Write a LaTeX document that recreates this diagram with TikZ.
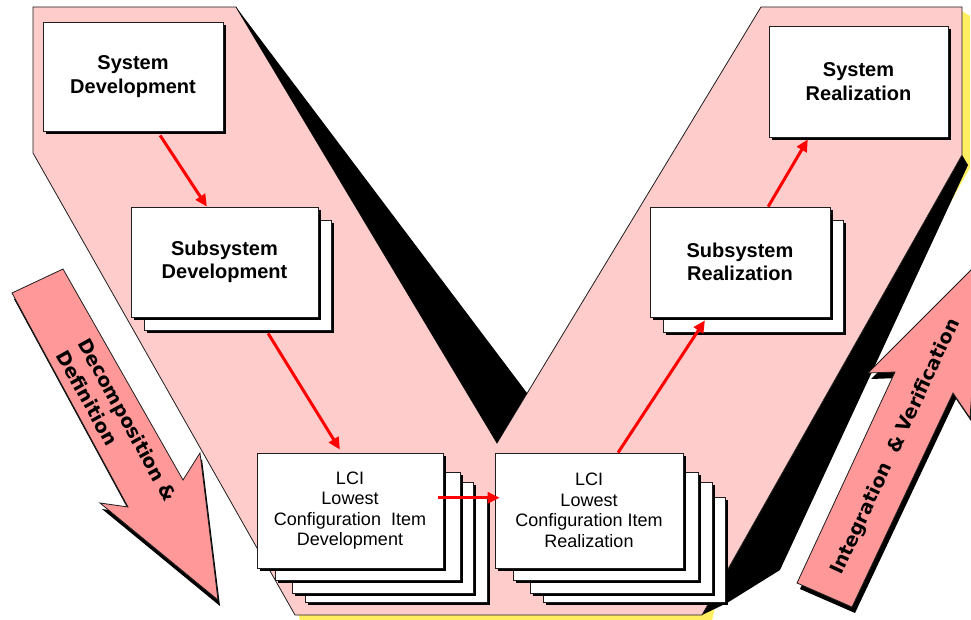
\documentclass[tikz,border=0pt]{standalone}
\usepackage{fontspec}
\setmainfont{Liberation Sans}
\newfontfamily\arrowfont{DejaVu Sans}
\usetikzlibrary{arrows.meta,calc,shadows}

\definecolor{vpink}{RGB}{255,204,204}
\definecolor{apink}{RGB}{255,153,153}
\definecolor{vyellow}{RGB}{255,238,96}
\definecolor{edgegray}{RGB}{30,30,30}

\tikzset{
  outline/.style={draw=edgegray, line width=0.8pt, line join=miter},
  card/.style={outline, fill=white, inner sep=0pt, align=center,
    drop shadow={shadow xshift=3pt, shadow yshift=-3pt, fill=black, opacity=1}},
  boldlabel/.style={font=\bfseries\fontsize{20}{23.5}\selectfont},
  lcilabel/.style={font=\fontsize{18}{20.5}\selectfont},
  arrowtext/.style={font=\arrowfont\bfseries\fontsize{19}{24.5}\selectfont, inner sep=0pt},
  flow/.style={draw=red, line width=3pt, -{Triangle[length=12pt,width=11pt]}},
}

\begin{document}
\begin{tikzpicture}[x=1pt,y=-1pt]
\path[use as bounding box] (0,0) rectangle (971,620);
\clip (0,0) rectangle (971,620);

% extruded V: yellow and black side faces, pink front face
\fill[vyellow] (955,7) -- (970,16) -- (970,168) -- (937,226) -- (930,226) -- (962,155) -- cycle;
\fill[vyellow] (298,613) -- (706,613) -- (716,604) -- (712,620) -- (300,620) -- cycle;
\fill[black] (962,155) -- (968,165) -- (780,570) -- (727,603) -- (702,615) -- cycle;
\draw[outline, fill=vpink] (33,7) -- (236,7) -- (497,443) -- (761,7) -- (962,7)
  -- (962,155) -- (702,615) -- (295,615) -- (33,153) -- cycle;
\fill[black] (236,7) -- (527,393) -- (497,443) -- cycle;

% Decomposition & Definition arrow
\fill[black, shift={(2,6)}] (12,293) -- (63,269) -- (183,480) -- (200,453) -- (218,600)
  -- (100,503) -- (128,507) -- cycle;
\draw[outline, fill=apink] (12,293) -- (63,269) -- (183,480) -- (200,453) -- (218,600)
  -- (100,503) -- (128,507) -- cycle;
\node[arrowtext, rotate=-61, align=left] (decomp) at (117,426) {Decomposition \&\\Definition};

% Integration & Verification arrow
\fill[black, shift={(3,6)}] (797,583) -- (895,372) -- (868,373) -- (981,260) -- (970,418)
  -- (953,393) -- (852,607) -- cycle;
\draw[outline, fill=apink] (797,583) -- (895,372) -- (868,373) -- (981,260) -- (970,418)
  -- (953,393) -- (852,607) -- cycle;
\node[arrowtext, rotate=65] (integ) at (896,447) {Integration~~\& Verification};

% left leg
\node[card, boldlabel, minimum width=180pt, minimum height=109pt] (sd) at (133,76.5)
  {System\\Development};
\node[card, minimum width=187pt, minimum height=110pt] (ssd2) at (237.5,275) {};
\node[card, boldlabel, minimum width=187pt, minimum height=110pt] (ssd) at (224.5,262)
  {Subsystem\\Development};
\node[card, minimum width=182pt, minimum height=105pt] (lcid4) at (396,549.5) {};
\node[card, minimum width=181pt, minimum height=111pt] (lcid3) at (382.5,537.5) {};
\node[card, minimum width=185pt, minimum height=108pt] (lcid2) at (367.5,526) {};
\node[card, lcilabel, minimum width=186pt, minimum height=115pt] (lcid) at (350,510.5)
  {LCI\\Lowest\\Configuration~ Item\\Development};

% right leg
\node[card, minimum width=182pt, minimum height=105pt] (lcir4) at (634,549.5) {};
\node[card, minimum width=182pt, minimum height=111pt] (lcir3) at (621,537.5) {};
\node[card, minimum width=185pt, minimum height=108pt] (lcir2) at (605.5,526) {};
\node[card, lcilabel, minimum width=188pt, minimum height=115pt] (lcir) at (589,510.5)
  {LCI\\Lowest\\Configuration Item\\Realization};
\node[card, minimum width=180pt, minimum height=112pt] (ssr2) at (753,276) {};
\node[card, boldlabel, minimum width=180pt, minimum height=110pt] (ssr) at (740,262)
  {Subsystem\\Realization};
\node[card, boldlabel, minimum width=179pt, minimum height=111pt] (sr) at (858.5,81.5)
  {System\\Realization};

% flow between the levels
\draw[flow] ($(sd.south west)!0.65!(sd.south east)+(0,4)$)
  -- ($(ssd.north west)!0.406!(ssd.north east)$);
\draw[flow] ($(ssd2.south west)!0.663!(ssd2.south east)+(0,3)$)
  -- ($(lcid.north west)!0.446!(lcid.north east)+(0,-3)$);
\draw[flow] ($(lcid.north east)!0.39!(lcid.south east)+(-5,0)$)
  -- ($(lcir.north west)!0.39!(lcir.south west)+(5,0)$);
\draw[flow] ($(lcir.north west)!0.654!(lcir.north east)$)
  -- ($(ssr.south west)!0.306!(ssr.south east)+(0,3)$);
\draw[flow] ($(ssr.north west)!0.656!(ssr.north east)$)
  -- ($(sr.south west)!0.218!(sr.south east)+(0,2)$);
\end{tikzpicture}
\end{document}
